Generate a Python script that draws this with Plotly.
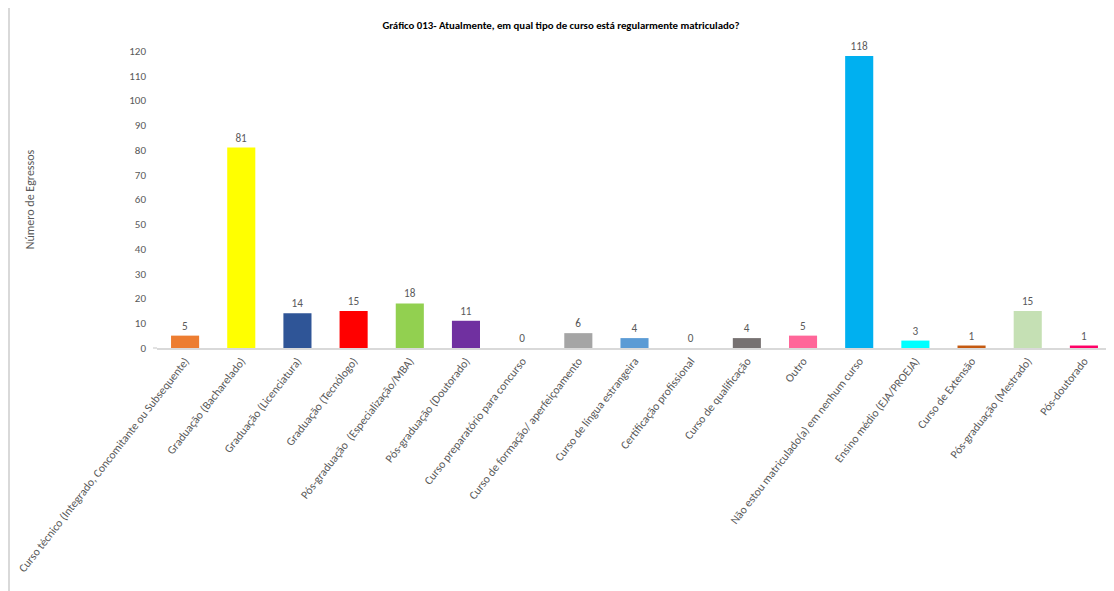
import plotly.graph_objects as go

categories = [
    "Curso técnico (Integrado, Concomitante ou Subsequente)",
    "Graduação (Bacharelado)",
    "Graduação (Licenciatura)",
    "Graduação (Tecnólogo)",
    "Pós-graduação  (Especialização/MBA)",
    "Pós-graduação (Doutorado)",
    "Curso preparatório para concurso",
    "Curso de formação/ aperfeiçoamento",
    "Curso de língua estrangeira",
    "Certificação profissional",
    "Curso de qualificação",
    "Outro",
    "Não estou matriculado(a) em nenhum curso",
    "Ensino médio (EJA/PROEJA)",
    "Curso de Extensão",
    "Pós-graduação (Mestrado)",
    "Pós-doutorado",
]
values = [5, 81, 14, 15, 18, 11, 0, 6, 4, 0, 4, 5, 118, 3, 1, 15, 1]
colors = [
    "#ED7D31", "#FFFF00", "#2F5597", "#FF0000", "#92D050", "#7030A0",
    "#FFFFFF", "#A5A5A5", "#5B9BD5", "#FFFFFF", "#767171", "#FF6699",
    "#00B0F0", "#00FFFF", "#C55A11", "#C5E0B4", "#FF0066",
]
y_ticks = list(range(0, 121, 10))

FONT = "Carlito, Liberation Sans Narrow, Liberation Sans, Arial, sans-serif"

fig = go.Figure(
    go.Bar(
        x=categories,
        y=values,
        marker=dict(color=colors, line=dict(width=0)),
        text=[str(v) for v in values],
        textposition="outside",
        cliponaxis=False,
        textfont=dict(family=FONT, size=11.2, color="#595959"),
        hoverinfo="x+y",
    )
)

# the page body adds an 8px offset, so the figure is laid out 8px up/left
W, H = 1106, 583
L, R, T, B = 149, 2, 43, 243
pw, ph = W - L - R, H - T - B

def px_x(x):
    return (x - L) / pw

def px_y(y):
    return (H - B - y) / ph

fig.update_layout(
    width=W,
    height=H,
    margin=dict(l=L, r=R, t=T, b=B, autoexpand=False),
    paper_bgcolor="white",
    plot_bgcolor="white",
    bargap=0.5,
    showlegend=False,
    title=dict(
        text="<b>Gráfico 013- Atualmente, em qual tipo de curso está regularmente matriculado?</b>",
        x=553 / W,
        xanchor="center",
        y=1 - 17 / H,
        yanchor="middle",
        font=dict(family=FONT, size=10.8, color="#000000"),
    ),
    font=dict(family=FONT, color="#595959"),
    xaxis=dict(
        automargin=False,
        tickangle=-52,
        tickfont=dict(family=FONT, size=11.6, color="#595959"),
        showline=True,
        linecolor="#D9D9D9",
        linewidth=1.5,
        ticks="",
        showgrid=False,
    ),
    yaxis=dict(
        automargin=False,
        range=[0, 120],
        tickvals=y_ticks,
        tickfont=dict(family=FONT, size=11, color="#595959"),
        showgrid=False,
        zeroline=False,
        showline=False,
        ticks="",
        ticklabelstandoff=10,
        title=dict(
            text="Número de Egressos",
            font=dict(family=FONT, size=12, color="#595959"),
            standoff=92,
        ),
    ),
    shapes=[
        dict(type="line", xref="paper", yref="paper",
             x0=px_x(1), x1=px_x(1), y0=px_y(0), y1=px_y(H + 2),
             line=dict(color="#D9D9D9", width=2)),
        dict(type="line", xref="paper", yref="paper",
             x0=px_x(L - 4), x1=px_x(L), y0=0, y1=0,
             line=dict(color="#D9D9D9", width=1.5)),
    ],
)

fig.write_html("out.html")
